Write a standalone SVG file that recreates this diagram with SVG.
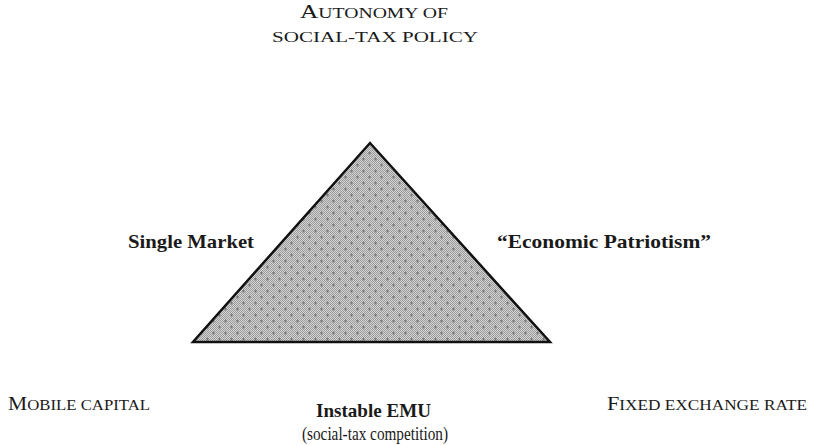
<svg xmlns="http://www.w3.org/2000/svg" width="814" height="445" viewBox="0 0 814 445">
<style>
text{font-family:'Liberation Serif','DejaVu Serif',serif;fill:#1a1a1a}
.b{font-weight:bold;font-size:19px}
.sc{font-size:18px}
.s{font-size:14px}
.n{font-size:18px}
</style>
<defs>
<pattern id="chk" width="2" height="2" patternUnits="userSpaceOnUse">
<rect width="2" height="2" fill="#d4d4d4"/>
<rect width="1" height="1" fill="#9a9a9a"/>
<rect x="1" y="1" width="1" height="1" fill="#9a9a9a"/>
</pattern>
<pattern id="crs" width="12" height="12" patternUnits="userSpaceOnUse">
<path d="M2 3h3M3.5 1.5v3M8 9h3M9.5 7.5v3" stroke="#7a7a7a" stroke-width="1"/>
</pattern>
</defs>
<g id="triangle">
<polygon points="370,143 193,342 550,342" fill="url(#chk)"/>
<polygon points="370,143 193,342 550,342" fill="url(#crs)"/>
<polygon points="370,143 193,342 550,342" fill="none" stroke="#111" stroke-width="2.5" stroke-linejoin="miter"/>
</g>
<g id="top">
<text x="300" y="18" class="sc" textLength="148" lengthAdjust="spacingAndGlyphs">A<tspan class="s">UTONOMY OF</tspan></text>
<text x="272" y="42" class="s" textLength="206" lengthAdjust="spacingAndGlyphs">SOCIAL-TAX POLICY</text>
</g>
<g id="left-side"><text x="128" y="248" class="b" textLength="126" lengthAdjust="spacingAndGlyphs">Single Market</text></g>
<g id="right-side"><text x="497" y="248" class="b" textLength="214" lengthAdjust="spacingAndGlyphs">“Economic Patriotism”</text></g>
<g id="bottom-left"><text x="8" y="410" class="sc" textLength="142" lengthAdjust="spacingAndGlyphs">M<tspan class="s">OBILE CAPITAL</tspan></text></g>
<g id="bottom-right"><text x="607" y="410" class="sc" textLength="200" lengthAdjust="spacingAndGlyphs">F<tspan class="s">IXED EXCHANGE RATE</tspan></text></g>
<g id="bottom">
<text x="316" y="417" class="b" textLength="115" lengthAdjust="spacingAndGlyphs">Instable EMU</text>
<text x="302" y="440" class="n" textLength="146" lengthAdjust="spacingAndGlyphs">(social-tax competition)</text>
</g>
</svg>
